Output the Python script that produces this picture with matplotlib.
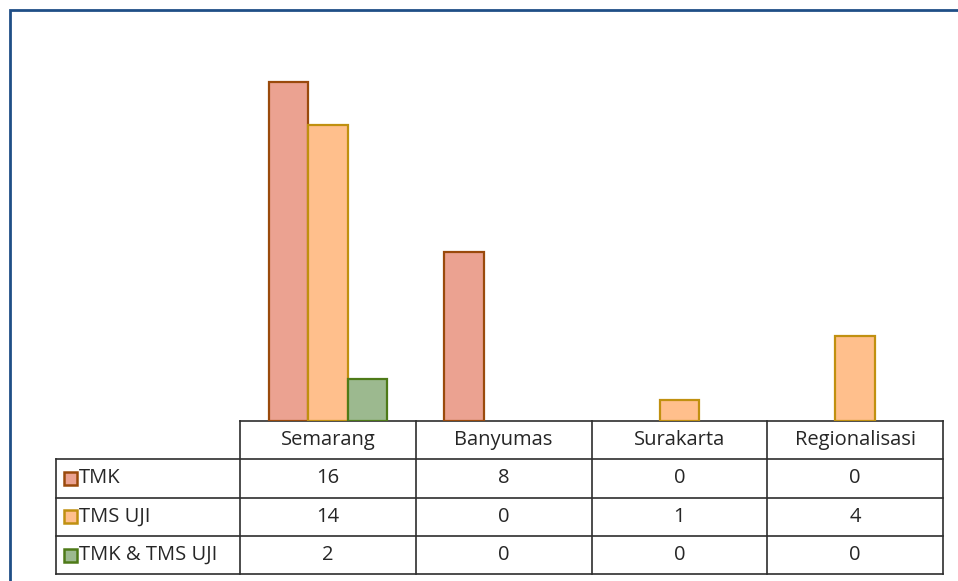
import matplotlib.pyplot as plt
from matplotlib.patches import Rectangle

categories = ["Semarang", "Banyumas", "Surakarta", "Regionalisasi"]
series = ["TMK", "TMS UJI", "TMK & TMS UJI"]
tmk = [16, 8, 0, 0]
tms_uji = [14, 0, 1, 4]
tmk_tms = [2, 0, 0, 0]
values = [tmk, tms_uji, tmk_tms]

fills = ["#eba291", "#ffbf8c", "#9cb98f"]
edges = ["#9a4a0c", "#c09010", "#4e7a18"]

W, H = 958, 581
fig = plt.figure(figsize=(W / 100, H / 100), dpi=100)
plt.rcParams['font.family'] = ['Open Sans', 'DejaVu Sans']

# outer frame (cut off at right and bottom like the screenshot)
fig.patches.append(Rectangle((10 / W, -0.05), 1.1, (H - 10) / H + 0.05,
                             transform=fig.transFigure, fill=False,
                             edgecolor="#1f4e86", linewidth=2.0, zorder=0))

# plot area: x 240..943 px, y 40..421 px
ax = fig.add_axes([240 / W, (H - 421) / H, 703 / W, 381 / H])
ax.set_xlim(0, 4)
ax.set_ylim(0, 18)
ax.axis('off')

bw = 0.225
for i in range(3):
    xs = [c + 0.5 + (i - 1) * bw for c in range(4)]
    hs = values[i]
    ax.bar([x for x, h in zip(xs, hs) if h > 0], [h for h in hs if h > 0],
           width=bw, color=fills[i], edgecolor=edges[i], linewidth=1.6,
           zorder=3)

# data table below the bars, drawn by hand (axes fraction coords)
ax_w, ax_h = 703.0, 381.0
row_h = 38.3 / ax_h
lab_w = 184 / ax_w
col_w = 0.25
lc = "#2e2e2e"
lw = 1.2
tr = ax.transAxes

def line(x0, x1, y0, y1):
    ax.plot([x0, x1], [y0, y1], color=lc, lw=lw, transform=tr, clip_on=False,
            solid_capstyle='projecting')

# horizontal lines
line(0, 1, 0, 0)
for r in range(1, 5):
    line(-lab_w, 1, -r * row_h, -r * row_h)
# vertical lines
for j in range(5):
    line(j * col_w, j * col_w, 0, -4 * row_h)
line(-lab_w, -lab_w, -row_h, -4 * row_h)

txt = "#262626"
fs = 14.5
for j, c in enumerate(categories):
    ax.text((j + 0.5) * col_w, -0.5 * row_h, c, transform=tr, ha='center',
            va='center', fontsize=fs, color=txt)
for r in range(3):
    yc = -(r + 1.5) * row_h
    for j in range(4):
        ax.text((j + 0.5) * col_w, yc, str(values[r][j]), transform=tr,
                ha='center', va='center', fontsize=fs, color=txt)
    ax.add_patch(Rectangle((-lab_w + 7.5 / ax_w, yc - 6.5 / ax_h), 13 / ax_w, 13 / ax_h,
                           transform=tr, facecolor=fills[r],
                           edgecolor=edges[r], linewidth=1.8, clip_on=False,
                           zorder=5))
    ax.text(-lab_w + 23 / ax_w, yc, series[r], transform=tr,
            ha='left', va='center', fontsize=fs, color=txt)

fig.savefig("out.png", dpi=100)
